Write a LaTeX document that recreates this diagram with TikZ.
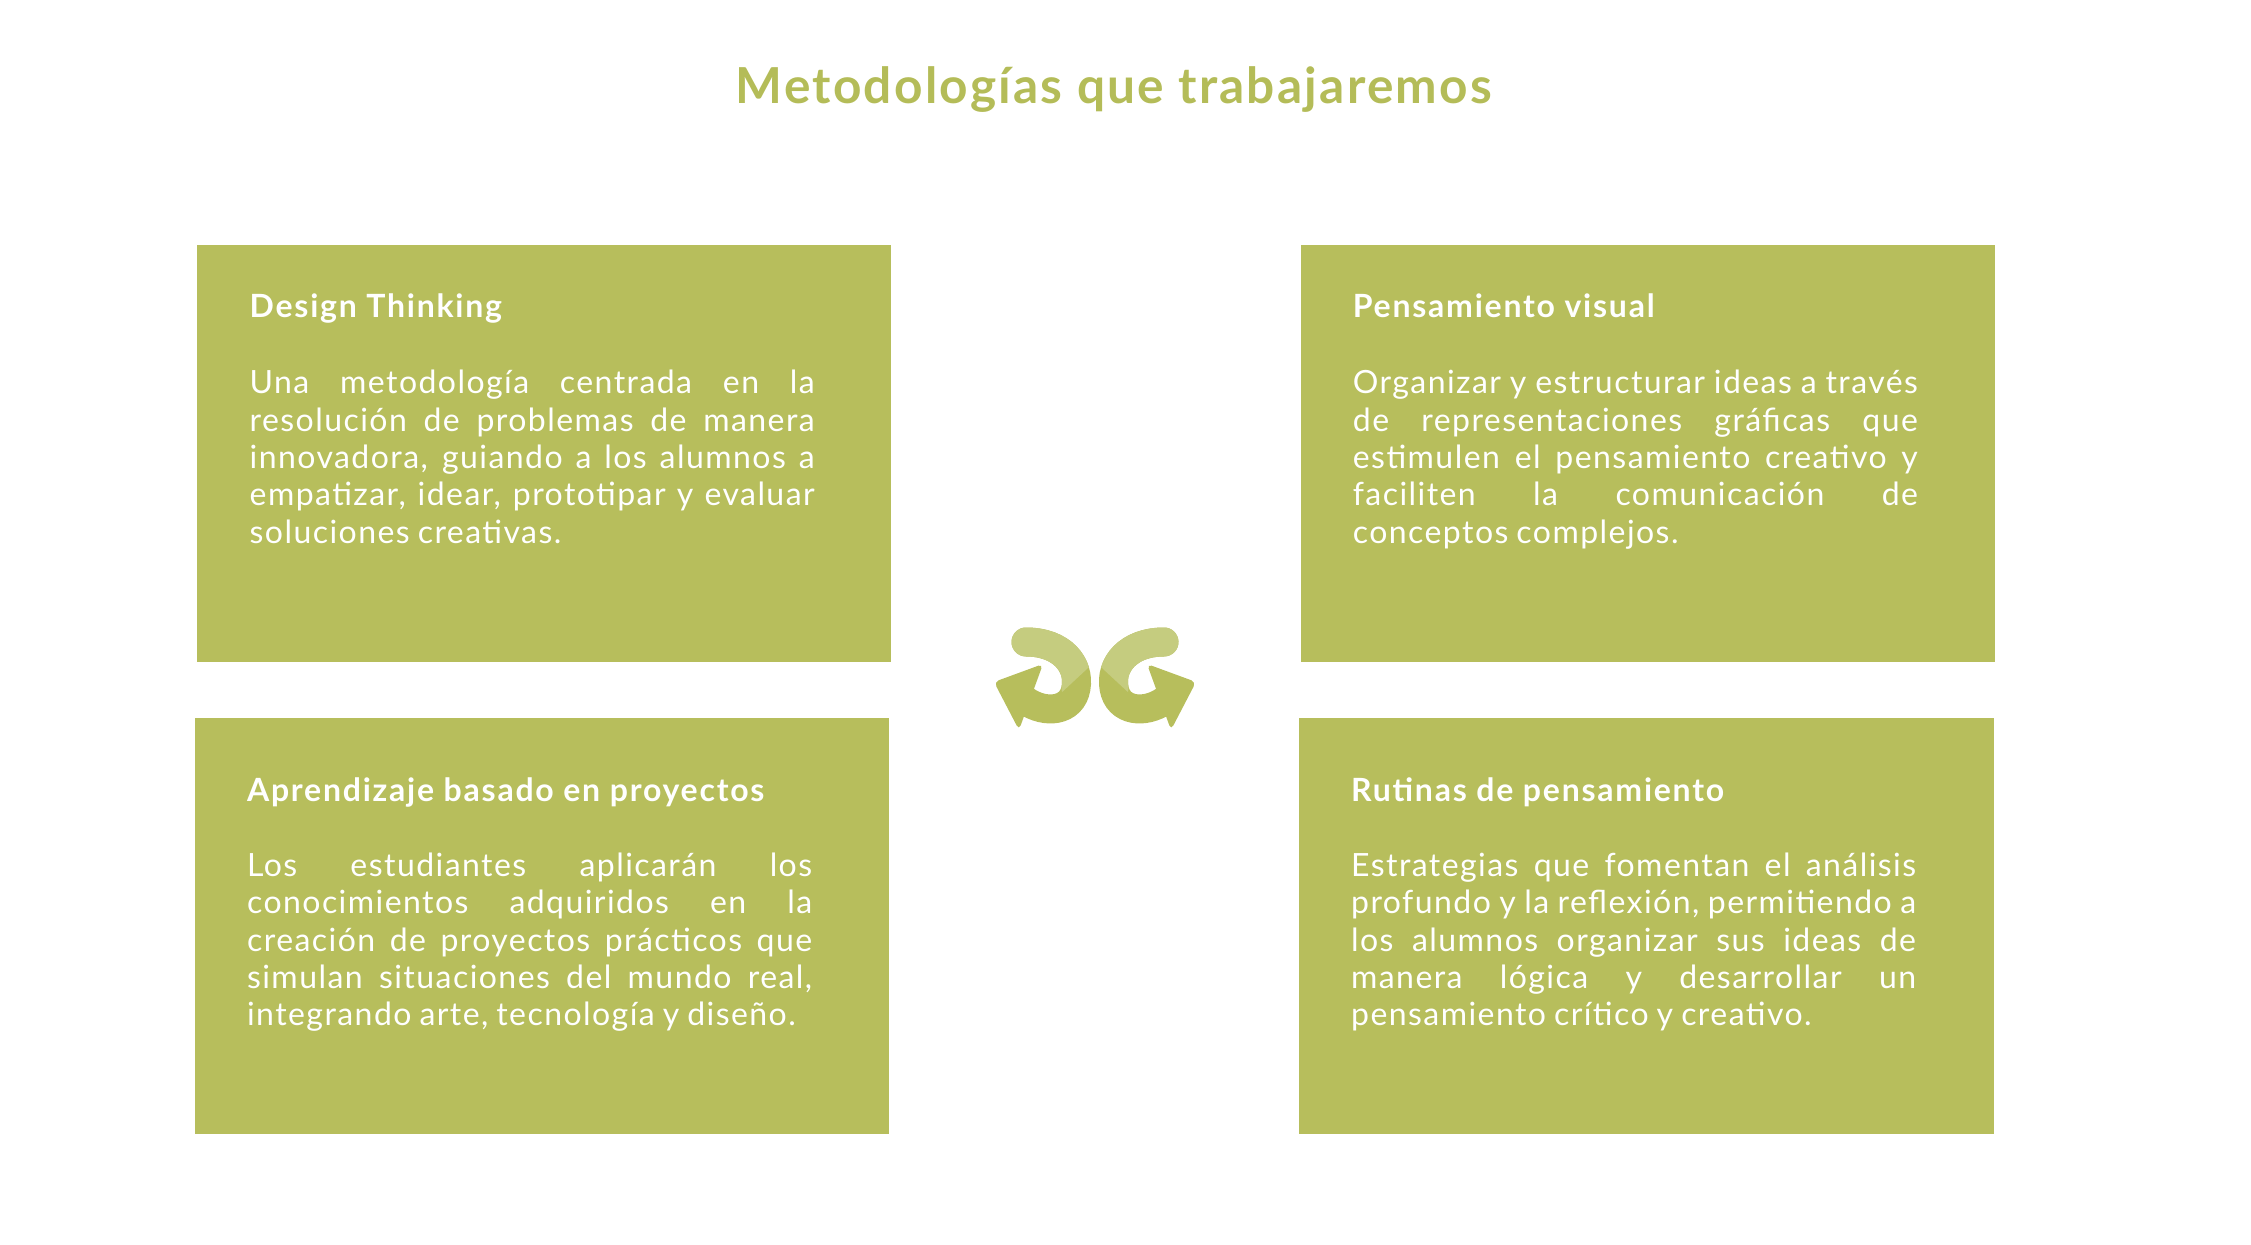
\documentclass[tikz,border=0pt]{standalone}
\usepackage{fontspec}
\setmainfont{Lato}
\newfontfamily\titlefont[LetterSpace=4.5]{Lato}
\newfontfamily\headfont[LetterSpace=5.5]{Lato}
\newfontfamily\bodyfont[LetterSpace=4.5]{Lato}
\definecolor{olive}{HTML}{B7BE5C}
\definecolor{oliveLight}{HTML}{C5CC7F}
\definecolor{oliveTitle}{HTML}{B4BC58}
\newlength{\bodyw}
\setlength{\bodyw}{282.5pt}
\newcommand{\jline}[1]{\hbox to \bodyw{\rule{0pt}{14pt}#1}}
\newcommand{\lline}[1]{\hbox{\rule{0pt}{14pt}#1}}
\newcommand{\bodyblock}[1]{\vbox{\spaceskip=0.25em plus 1em minus 0.08em\relax #1}}
\tikzset{
  card/.style={fill=olive, draw=none, anchor=north west, inner sep=0pt, outer sep=0pt},
  cardhead/.style={anchor=base west, inner sep=0pt, text=white, font=\headfont\fontsize{16}{19}\selectfont\bfseries},
  cardbody/.style={anchor=north west, inner sep=0pt, text=white,
     font=\bodyfont\fontsize{16}{18.67}\selectfont},
  arrowlight/.style={draw=oliveLight, line width=14.5pt, line cap=round},
  arrowdark/.style={draw=olive, line width=14.5pt, line cap=round},
}
\newcommand{\curvedarrow}{%
  \draw[arrowdark] (1026,642) .. controls (1062,642) and (1080,665) .. (1076,688)
     .. controls (1072,712) and (1045,714) .. (1026,701);
  \begin{scope}
    \clip (990,600) -- (1110,600) -- (1110,647.6) -- (990,759) -- cycle;
    \draw[arrowlight] (1026,642) .. controls (1062,642) and (1080,665) .. (1076,688);
  \end{scope}
  \fill[olive, rounded corners=2.5pt] (994,682) -- (1043,664) -- (1019,730) -- cycle;
}
\begin{document}
\begin{tikzpicture}[x=0.5pt, y=-0.5pt]
\useasboundingbox (0,0) rectangle (2251,1245);
\node[anchor=base west, inner sep=0pt, text=oliveTitle, font=\titlefont\fontsize{24.8}{28}\selectfont\bfseries] (title) at (735.5,103.3) {Metodologías que trabajaremos};

% boxes
\node[card, minimum width=347.15pt, minimum height=208.35pt] (b1) at (196.7,245) {};
\node[card, minimum width=347.15pt, minimum height=208.35pt] (b2) at (1300.7,245) {};
\node[card, minimum width=347pt, minimum height=208.3pt] (b3) at (195.3,717.7) {};
\node[card, minimum width=347.15pt, minimum height=208.3pt] (b4) at (1299.3,717.7) {};

% headings
\node[cardhead] (h1) at (249.3,318) {Design Thinking};
\node[cardhead] (h2) at (1352.5,318) {Pensamiento visual};
\node[cardhead] (h3) at (246.7,801.5) {Aprendizaje basado en proyectos};
\node[cardhead] (h4) at (1350.7,801.5) {Rutinas de pensamiento};

% bodies
\node[cardbody] (t1) at (249.3,365.5) {\bodyblock{%
  \jline{Una metodología centrada en la}
  \jline{resolución de problemas de manera}
  \jline{innovadora, guiando a los alumnos a}
  \jline{empatizar, idear, prototipar y evaluar}
  \lline{soluciones creativas.}}};
\node[cardbody] (t2) at (1352.5,365.5) {\bodyblock{%
  \jline{Organizar y estructurar ideas a través}
  \jline{de representaciones gráficas que}
  \jline{estimulen el pensamiento creativo y}
  \jline{faciliten la comunicación de}
  \lline{conceptos complejos.}}};
\node[cardbody] (t3) at (246.7,848) {\bodyblock{%
  \jline{Los estudiantes aplicarán los}
  \jline{conocimientos adquiridos en la}
  \jline{creación de proyectos prácticos que}
  \jline{simulan situaciones del mundo real,}
  \lline{integrando arte, tecnología y diseño.}}};
\node[cardbody] (t4) at (1350.7,848) {\bodyblock{%
  \jline{Estrategias que fomentan el análisis}
  \jline{profundo y la reflexión, permitiendo a}
  \jline{los alumnos organizar sus ideas de}
  \jline{manera lógica y desarrollar un}
  \lline{pensamiento crítico y creativo.}}};

% central icon
\curvedarrow
\begin{scope}[cm={-1,0,0,1,(2190,0)}]
\curvedarrow
\end{scope}
\end{tikzpicture}
\end{document}
